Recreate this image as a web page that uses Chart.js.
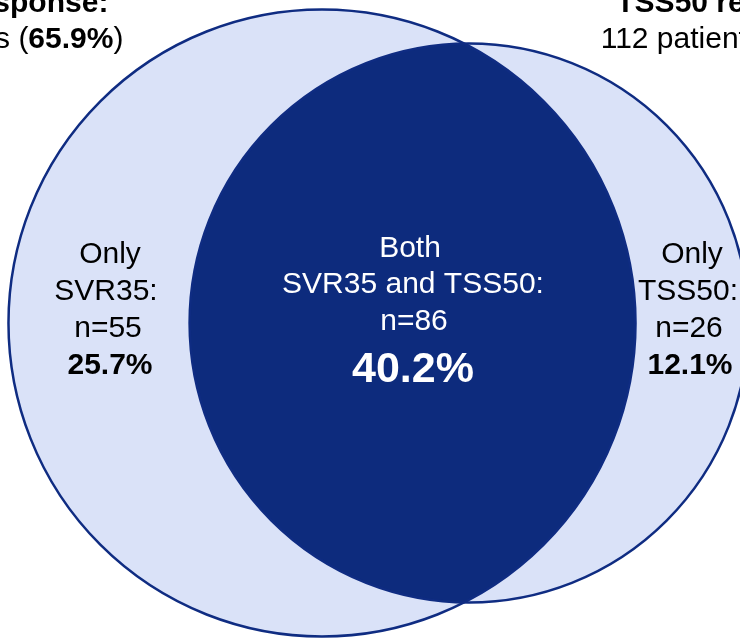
<!DOCTYPE html>
<html>
<head>
<meta charset="utf-8">
<script src="https://cdn.jsdelivr.net/npm/chart.js@4"></script>
<style>
  html, body { margin: 0; padding: 0; background: #fff; }
  #venn { display: block; }
</style>
</head>
<body>
<canvas id="venn" width="740" height="639"></canvas>
<script>
// -------------------- DATA --------------------
const groups = ["SVR35", "TSS50"];
const groupTotals = [141, 112]; // patients with each response
const groupPcts = [65.9, 52.3];
const onlyCounts = [55, 26]; // only SVR35, only TSS50
const onlyPcts = [25.7, 12.1];
const bothCount = 86;
const bothPct = 40.2;

// -------------------- GEOMETRY --------------------
// circle area = patient count, overlap area = patients with both
const radii = groupTotals.map((n) => Math.sqrt(n / Math.PI));

function overlapArea(r1, r2, d) {
  if (d >= r1 + r2) return 0;
  if (d <= Math.abs(r1 - r2)) return Math.PI * Math.min(r1, r2) ** 2;
  const a1 = r1 * r1 * Math.acos((d * d + r1 * r1 - r2 * r2) / (2 * d * r1));
  const a2 = r2 * r2 * Math.acos((d * d + r2 * r2 - r1 * r1) / (2 * d * r2));
  const t = 0.5 * Math.sqrt((-d + r1 + r2) * (d + r1 - r2) * (d - r1 + r2) * (d + r1 + r2));
  return a1 + a2 - t;
}

// find centre distance that gives the overlap we want (bisection)
let lo = Math.abs(radii[0] - radii[1]), hi = radii[0] + radii[1];
for (let i = 0; i < 60; i++) {
  const mid = (lo + hi) / 2;
  if (overlapArea(radii[0], radii[1], mid) > bothCount) lo = mid;
  else hi = mid;
}
const centreDist = (lo + hi) / 2;

// colours
const LIGHT = "#dae2f8";
const DARK = "#0d2b7d";
const EDGE = "#0f2c82";
const FONT = "'Liberation Sans', Arial, sans-serif";

// -------------------- PLUGIN --------------------
// draws the two circles + overlap from the dataset points through the scales
const vennPlugin = {
  id: "venn",
  beforeDatasetsDraw(chart) {
    const { ctx, scales: { x, y } } = chart;
    const pts = chart.data.datasets[0].data;
    const circles = pts.map((p, i) => ({
      cx: x.getPixelForValue(p.x),
      cy: y.getPixelForValue(p.y),
      r: x.getPixelForValue(p.x + radii[i]) - x.getPixelForValue(p.x),
    }));
    const path = (c) => {
      ctx.beginPath();
      ctx.arc(c.cx, c.cy, c.r, 0, Math.PI * 2);
    };

    ctx.save();
    ctx.fillStyle = LIGHT;
    circles.forEach((c) => { path(c); ctx.fill(); });

    // overlap region
    ctx.save();
    path(circles[0]);
    ctx.clip();
    path(circles[1]);
    ctx.fillStyle = DARK;
    ctx.fill();
    ctx.restore();

    ctx.strokeStyle = EDGE;
    ctx.lineWidth = 2.5;
    circles.forEach((c) => { path(c); ctx.stroke(); });
    ctx.restore();
  },
  afterDatasetsDraw(chart) {
    const ctx = chart.ctx;
    const reg = "30px " + FONT;
    const bold = "bold 30px " + FONT;

    // draws a line made of [text, font] parts, centred on cx
    function line(parts, cx, by, color) {
      ctx.fillStyle = color;
      let w = 0;
      parts.forEach(([t, f]) => { ctx.font = f; w += ctx.measureText(t).width; });
      let xx = cx - w / 2;
      ctx.textAlign = "left";
      ctx.textBaseline = "alphabetic";
      parts.forEach(([t, f]) => {
        ctx.font = f;
        ctx.fillText(t, xx, by);
        xx += ctx.measureText(t).width;
      });
    }

    ctx.save();
    // headers
    line([[groups[0] + " response:", bold]], -15, 12, "#000");
    line([[groupTotals[0] + " patients (", reg], [groupPcts[0] + "%", bold], [")", reg]], -15, 48, "#000");
    line([[groups[1] + " response:", bold]], 738, 12, "#000");
    line([[groupTotals[1] + " patients (", reg], [groupPcts[1] + "%", bold], [")", reg]], 738, 48, "#000");

    // only SVR35
    line([["Only", reg]], 110, 263, "#000");
    line([[groups[0] + ":", reg]], 106, 300, "#000");
    line([["n=" + onlyCounts[0], reg]], 108, 337, "#000");
    line([[onlyPcts[0] + "%", bold]], 110, 374, "#000");

    // both
    line([["Both", reg]], 410, 257, "#fff");
    line([[groups[0] + " and " + groups[1] + ":", reg]], 413, 293, "#fff");
    line([["n=" + bothCount, reg]], 414, 330, "#fff");
    line([[bothPct + "%", "bold 43px " + FONT]], 413, 382, "#fff");

    // only TSS50
    line([["Only", reg]], 692, 263, "#000");
    line([[groups[1] + ":", reg]], 688, 300, "#000");
    line([["n=" + onlyCounts[1], reg]], 689, 337, "#000");
    line([[onlyPcts[1] + "%", bold]], 690, 374, "#000");
    ctx.restore();
  },
};

// -------------------- CHART --------------------
const pxPerUnit = 46.8; // so the scales map 1:1 onto the canvas
const ctx = document.getElementById("venn");
new Chart(ctx, {
  type: "scatter",
  data: {
    datasets: [
      {
        label: "Venn",
        data: [
          { x: 0, y: 0 },
          { x: centreDist, y: 0 },
        ],
        pointRadius: 0,
      },
    ],
  },
  options: {
    responsive: false,
    animation: false,
    layout: { padding: 0 },
    plugins: { legend: { display: false }, tooltip: { enabled: false } },
    scales: {
      x: { display: false, min: -322 / pxPerUnit, max: (740 - 322) / pxPerUnit },
      y: { display: false, min: -(639 - 323) / pxPerUnit, max: 323 / pxPerUnit },
    },
  },
  plugins: [vennPlugin],
});
</script>
</body>
</html>
